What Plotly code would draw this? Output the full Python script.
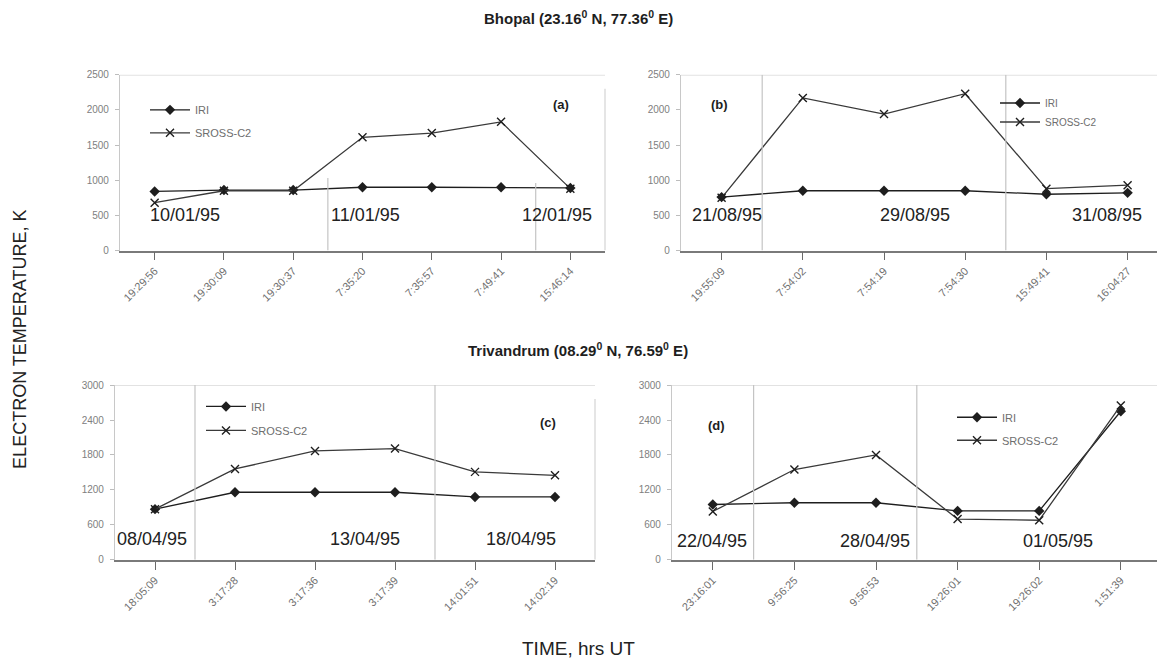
import plotly.graph_objects as go

W, H = 1157, 667

# ---------------- data ----------------
labels_a = ["19:29:56", "19:30:09", "19:30:37", "7:35:20", "7:35:57", "7:49:41", "15:46:14"]
iri_a = [840, 860, 860, 900, 900, 900, 890]
sross_a = [680, 850, 850, 1610, 1670, 1830, 880]

labels_b = ["19:55:09", "7:54:02", "7:54:19", "7:54:30", "15:49:41", "16:04:27"]
iri_b = [760, 850, 850, 850, 800, 820]
sross_b = [750, 2170, 1940, 2230, 880, 930]

labels_c = ["18:05:09", "3:17:28", "3:17:36", "3:17:39", "14:01:51", "14:02:19"]
iri_c = [870, 1160, 1160, 1160, 1080, 1080]
sross_c = [870, 1560, 1870, 1910, 1510, 1450]

labels_d = ["23:16:01", "9:56:25", "9:56:53", "19:26:01", "19:26:02", "1:51:39"]
iri_d = [950, 980, 980, 840, 840, 2550]
sross_d = [830, 1550, 1800, 700, 680, 2650]

dates_a = ["10/01/95", "11/01/95", "12/01/95"]
dates_b = ["21/08/95", "29/08/95", "31/08/95"]
dates_c = ["08/04/95", "13/04/95", "18/04/95"]
dates_d = ["22/04/95", "28/04/95", "01/05/95"]

yticks_top = [0, 500, 1000, 1500, 2000, 2500]
yticks_bot = [0, 600, 1200, 1800, 2400, 3000]

title_top = "Bhopal (23.16<sup>0</sup> N, 77.36<sup>0</sup> E)"
title_bot = "Trivandrum (08.29<sup>0</sup> N, 76.59<sup>0</sup> E)"
ytitle = "ELECTRON TEMPERATURE, K"
xtitle = "TIME, hrs UT"
series_names = ["IRI", "SROSS-C2"]

# ---------------- helpers ----------------
def px(x):
    return x / W


def py(y):
    return 1 - y / H


FONT = "Liberation Sans, Arial, sans-serif"
INK = "#1e1e1e"

fig = go.Figure()

panels = [
    dict(lab=labels_a, iri=iri_a, sr=sross_a, ax="", leg="legend", xs=(120, 605), ys=(70, 249),
         yr=2500, yt=yticks_top, xend=None, rborder=True),
    dict(lab=labels_b, iri=iri_b, sr=sross_b, ax="2", leg="legend2", xs=(681, 1157), ys=(70, 249),
         yr=2500, yt=yticks_top, xend=-0.5 + 476 / 81.2, rborder=False),
    dict(lab=labels_c, iri=iri_c, sr=sross_c, ax="3", leg="legend3", xs=(115, 595), ys=(386, 564),
         yr=3000, yt=yticks_bot, xend=None, rborder=True),
    dict(lab=labels_d, iri=iri_d, sr=sross_d, ax="4", leg="legend4", xs=(672, 1157), ys=(386, 564),
         yr=3000, yt=yticks_bot, xend=-0.5 + 485 / 81.6, rborder=False),
]

for p in panels:
    xa = "x" + p["ax"]
    ya = "y" + p["ax"]
    fig.add_trace(go.Scatter(
        x=p["lab"], y=p["iri"], name=series_names[0], mode="lines+markers",
        xaxis=xa, yaxis=ya, legend=p["leg"], legendgroup="iri" + p["ax"],
        line=dict(color=INK, width=1.3),
        marker=dict(symbol="diamond", size=8, color=INK),
    ))
    fig.add_trace(go.Scatter(
        x=p["lab"], y=p["sr"], name=series_names[1], mode="lines+markers",
        xaxis=xa, yaxis=ya, legend=p["leg"], legendgroup="sr" + p["ax"],
        line=dict(color="#3a3a3a", width=1.3),
        marker=dict(symbol="x-thin", size=8, color=INK, line=dict(width=1.4, color=INK)),
    ))
    n = len(p["lab"])
    xend = p["xend"] if p["xend"] is not None else n - 0.5
    xkey = "xaxis" + p["ax"]
    ykey = "yaxis" + p["ax"]
    fig.layout[xkey] = dict(
        domain=[px(p["xs"][0]), px(p["xs"][1])], anchor=ya, type="category",
        range=[-0.5, xend], showgrid=False, zeroline=False,
        showline=True, linecolor="#7a7a7a", linewidth=1.5,
        ticks="outside", ticklen=8, tickcolor="#6a6a6a", tickwidth=1.2,
        tickangle=-45, tickfont=dict(family=FONT, size=11, color="#707070"),
    )
    fig.layout[ykey] = dict(
        domain=[py(p["ys"][1]), py(p["ys"][0])], anchor=xa,
        range=[0, p["yr"]], tickvals=p["yt"], showgrid=False, zeroline=False,
        showline=True, linecolor="#c8c8c8", linewidth=1.2,
        ticks="outside", ticklen=4, tickcolor="#bdbdbd", ticklabelstandoff=4,
        tickfont=dict(family=FONT, size=10, color="#808080"),
    )
    # faint top border of the plot area
    fig.add_shape(type="line", xref=xa + " domain", yref=ya, x0=0, x1=1,
                  y0=p["yr"], y1=p["yr"], line=dict(color="#e2e2e2", width=2))
    if p["rborder"]:
        fig.add_shape(type="line", xref=xa + " domain", yref=ya, x0=1, x1=1,
                      y0=0, y1=p["yr"] * 0.92, line=dict(color="#d4d4d4", width=1.2))

# date divider lines
dividers = [
    ("x", "y", 2.5, 1030), ("x", "y", 5.5, 960),
    ("x2", "y2", 0.5, 2500), ("x2", "y2", 3.5, 2500),
    ("x3", "y3", 0.5, 3000), ("x3", "y3", 3.5, 3000),
    ("x4", "y4", 0.5, 3000), ("x4", "y4", 2.5, 3000),
]
for xa, ya, xv, ytop in dividers:
    fig.add_shape(type="line", xref=xa, yref=ya, x0=xv, x1=xv, y0=0, y1=ytop,
                  line=dict(color="#c4c4c4", width=1.2))

# ---------------- annotations ----------------
ann = []


def text(x, y, s, size, color=INK, bold=False, angle=0, xanchor="center"):
    ann.append(dict(x=px(x), y=py(y), xref="paper", yref="paper", text=("<b>%s</b>" % s) if bold else s,
                    showarrow=False, xanchor=xanchor, yanchor="middle", textangle=angle,
                    font=dict(family=FONT, size=size, color=color)))


text(578, 12, title_top, 15, bold=True)
text(578, 350, title_bot, 15, bold=True)
text(20, 340, ytitle, 18, angle=-90, color="#222")
text(578, 654, xtitle, 19, color="#222")

for s, x in zip(dates_a, [185, 365, 557]):
    text(x, 213, s, 18, color="#222")
for s, x in zip(dates_b, [727, 915, 1107]):
    text(x, 213, s, 18, color="#222")
for s, x in zip(dates_c, [152, 365, 521]):
    text(x, 543, s, 18, color="#222")
for s, x in zip(dates_d, [712, 875, 1058]):
    text(x, 545, s, 18, color="#222")

text(561, 100, "(a)", 13, bold=True)
text(719, 100, "(b)", 13, bold=True)
text(548, 424, "(c)", 13, bold=True)
text(716, 427, "(d)", 13, bold=True)

fig.update_layout(annotations=ann)

legfont = dict(family=FONT, size=11, color="#6e6e6e")
legbase = dict(xanchor="left", yanchor="top", bgcolor="rgba(0,0,0,0)",
               itemwidth=40, traceorder="grouped")
fig.update_layout(
    legend=dict(x=px(145), y=py(91), tracegroupgap=4, font=legfont, **legbase),
    legend2=dict(x=px(995), y=py(84), tracegroupgap=0,
                 font=dict(family=FONT, size=10, color="#6e6e6e"), **legbase),
    legend3=dict(x=px(201), y=py(393), tracegroupgap=5, font=legfont, **legbase),
    legend4=dict(x=px(952), y=py(404), tracegroupgap=4, font=legfont, **legbase),
)

fig.update_layout(
    width=W, height=H, autosize=False,
    margin=dict(l=0, r=0, t=0, b=0),
    paper_bgcolor="white", plot_bgcolor="white",
    showlegend=True,
    font=dict(family=FONT),
)

fig.write_html(
    "out.html",
    config={"displayModeBar": False},
    post_script="document.body.style.margin='0';document.body.style.overflow='hidden';",
)
